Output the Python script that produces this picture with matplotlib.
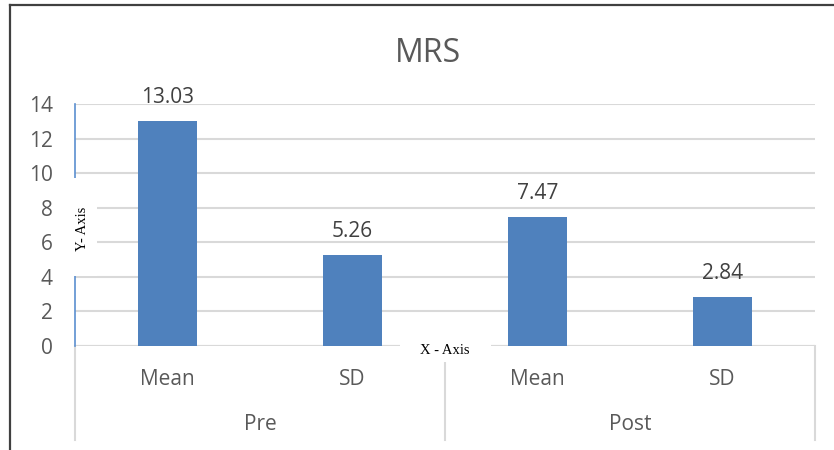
import matplotlib.pyplot as plt
from matplotlib.patches import Rectangle
from matplotlib.lines import Line2D

# data
groups = ['Pre', 'Post']
stats = ['Mean', 'SD', 'Mean', 'SD']
values = [13.03, 5.26, 7.47, 2.84]
yticks = [0, 2, 4, 6, 8, 10, 12, 14]

bar_color = '#4F81BD'
grid_color = '#D9D9D9'
text_color = '#595959'
font = ['Open Sans', 'DejaVu Sans']
serif = ['Liberation Serif', 'DejaVu Serif']

fig = plt.figure(figsize=(8.34, 4.5), dpi=100)
W, H = 834, 450
ax = fig.add_axes([75 / W, 1 - 346 / H, (815 - 75) / W, (346 - 104) / H])
px = 14 / 242  # data units per pixel on y

x = list(range(len(values)))
ax.bar(x, values, width=0.315, color=bar_color, zorder=2)
for xi, v in zip(x, values):
    ax.text(xi, v + 18 * px, f'{v:.2f}', ha='center', va='baseline',
            fontsize=15, color='#404040', family=font)

ax.set_xlim(-0.5, 3.5)
ax.set_ylim(0, 14)
ax.set_yticks(yticks)
ax.set_yticklabels([str(t) for t in yticks], family=font, fontsize=15, color=text_color)
ax.tick_params(axis='y', length=0, pad=16)
ax.set_xticks([])
ax.yaxis.grid(True, color=grid_color, lw=1.5, zorder=0)
ax.set_axisbelow(True)
for s in ['top', 'right', 'bottom']:
    ax.spines[s].set_visible(False)
ax.spines['left'].set_color('#5B8FD0')
ax.spines['left'].set_linewidth(1.2)

# baseline
ax.axhline(0, color=grid_color, lw=1.5, zorder=1)

# two-level category axis
tr = ax.get_xaxis_transform()
bottom = -(440 - 346) / 242
for xv, y0 in [(-0.5, 0), (1.5, -(363 - 346) / 242), (3.5, 0)]:
    ax.add_line(Line2D([xv, xv], [y0, bottom], transform=tr, color=grid_color,
                       lw=1.5, clip_on=False))
for xi, s in zip(x, stats):
    ax.text(xi, -(385 - 346) / 242, s, transform=tr, ha='center', va='baseline',
            fontsize=15, color=text_color, family=font)
for gi, g in enumerate(groups):
    ax.text(0.5 + 2 * gi, -(430 - 346) / 242, g, transform=tr, ha='center',
            va='baseline', fontsize=15, color=text_color, family=font)

# axis captions on white boxes
fig.add_artist(Rectangle((70 / W, 1 - 276 / H), 27 / W, 98 / H, facecolor='white',
                         edgecolor='none', transform=fig.transFigure, zorder=5))
fig.text(82 / W, 1 - 229 / H, 'Y- Axis', rotation=90, ha='center', va='center',
         fontsize=10.5, family=serif, color='black', zorder=6)
fig.add_artist(Rectangle((400 / W, 1 - 362 / H), 91 / W, 22 / H, facecolor='white',
                         edgecolor='none', transform=fig.transFigure, zorder=5))
fig.text(445 / W, 1 - 350 / H, 'X - Axis', ha='center', va='center',
         fontsize=10.5, family=serif, color='black', zorder=6)

# title
fig.text(428 / W, 1 - 62 / H, 'MRS', ha='center', va='baseline', fontsize=23,
         color=text_color, family=font)

# outer frame
fig.add_artist(Line2D([10 / W, 1], [1 - 5 / H, 1 - 5 / H], transform=fig.transFigure,
                      color='#404040', lw=1.6))
fig.add_artist(Line2D([10 / W, 10 / W], [0, 1 - 5 / H], transform=fig.transFigure,
                      color='#404040', lw=1.6))

fig.savefig('out.png', dpi=100)
